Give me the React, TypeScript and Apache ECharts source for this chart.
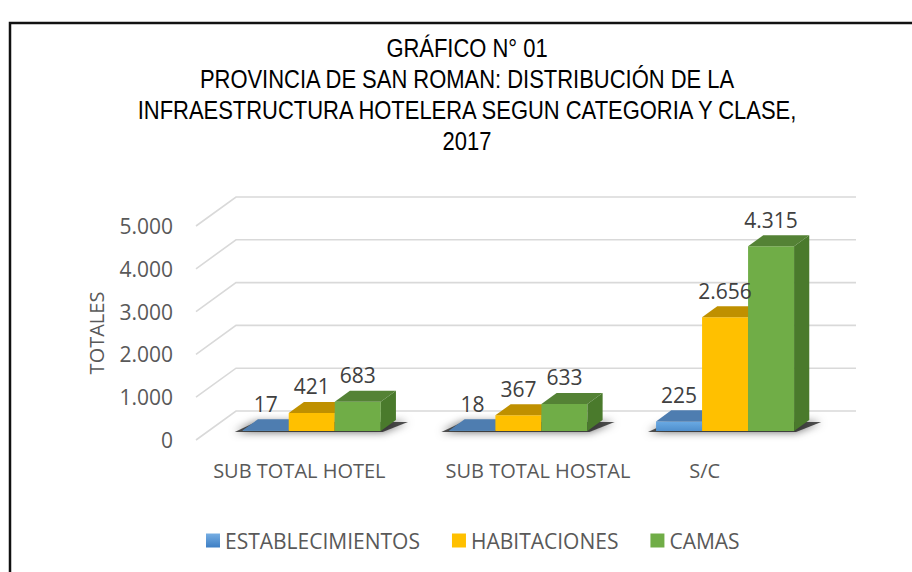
import React, { useEffect, useRef } from "react";
import * as echarts from "echarts";

const categories = ["SUB TOTAL HOTEL", "SUB TOTAL HOSTAL", "S/C"];
const seriesNames = ["ESTABLECIMIENTOS", "HABITACIONES", "CAMAS"];
const establecimientos = [17, 18, 225];
const habitaciones = [421, 367, 2656];
const camas = [683, 633, 4315];
const yTicks = [0, 1000, 2000, 3000, 4000, 5000];
const titleLines = [
  "GRÁFICO N° 01",
  "PROVINCIA DE SAN ROMAN: DISTRIBUCIÓN DE LA",
  "INFRAESTRUCTURA HOTELERA SEGUN CATEGORIA Y CLASE,",
  "2017",
];

const DX = 40;
const DY = -29;
const F0 = 0.31;
const F1 = 0.69;
const BAR_FRAC = 0.2226;

const faceColors = [
  { front: "#5B9BD5", top: "#4E7DB0", side: "#3F6A99" },
  { front: "#FFC000", top: "#BF9000", side: "#A67C00" },
  { front: "#70AD47", top: "#548235", side: "#4A7A2C" },
];

const fmt = (v: number) => String(v).replace(/\B(?=(\d{3})+(?!\d))/g, ".");

function barRenderer(si: number) {
  return (params: any, api: any) => {
    const cat = api.value(0);
    const val = api.value(1);
    const base = api.coord([cat, 0]);
    const topP = api.coord([cat, val]);
    const band = api.size([1, 0])[0];
    const bw = band * BAR_FRAC;
    const cx = base[0] + (si - 1) * bw + DX * F0;
    const x0 = cx - bw / 2;
    const x1 = cx + bw / 2;
    const yb = base[1] + DY * F0;
    const yt = topP[1] + DY * F0;
    const ddx = DX * (F1 - F0);
    const ddy = DY * (F1 - F0);
    const c = faceColors[si];
    const front =
      si === 0
        ? new echarts.graphic.LinearGradient(0, 0, 0, 1, [
            { offset: 0, color: "#6AAAE4" },
            { offset: 1, color: "#4F8FCD" },
          ])
        : c.front;
    return {
      type: "group",
      children: [
        {
          type: "polygon",
          shape: { points: [[x0, yt], [x1, yt], [x1, yb], [x0, yb]] },
          style: { fill: front },
        },
        {
          type: "polygon",
          shape: {
            points: [
              [x0, yt],
              [x1, yt],
              [x1 + ddx, yt + ddy],
              [x0 + ddx, yt + ddy],
            ],
          },
          style: { fill: c.top },
        },
        {
          type: "polygon",
          shape: {
            points: [
              [x1, yt],
              [x1 + ddx, yt + ddy],
              [x1 + ddx, yb + ddy],
              [x1, yb],
            ],
          },
          style: { fill: c.side },
        },
        {
          type: "text",
          z2: 100,
          style: {
            text: fmt(val),
            x: cx,
            y: yt + ddy - 5,
            align: "center",
            verticalAlign: "bottom",
            fill: "#404040",
            font: "21px 'Open Sans'",
          },
        },
      ],
    };
  };
}

function shadowRenderer(params: any, api: any) {
  const cat = api.value(0);
  const base = api.coord([cat, 0]);
  const band = api.size([1, 0])[0];
  const bw = band * BAR_FRAC;
  const gx0 = base[0] - 1.5 * bw + DX * F0;
  const gx1 = base[0] + 1.5 * bw + DX * F0;
  const yb = base[1] + DY * F0;
  const ddx = DX * (F1 - F0);
  const ddy = DY * (F1 - F0);
  return {
    type: "polygon",
    shape: {
      points: [
        [gx0 - 8, yb + 1],
        [gx1 + 2, yb + 1],
        [gx1 + ddx + 12, yb + ddy + 2],
        [gx0 + ddx - 2, yb + ddy + 2],
      ],
    },
    style: {
      fill: "rgba(30,30,30,0.75)",
      shadowBlur: 8,
      shadowColor: "rgba(0,0,0,0.8)",
    },
  };
}

function gridRenderer(params: any, api: any) {
  const v = api.value(1);
  const p = api.coord([0, v]);
  const pr = api.coord([categories.length - 1, v]);
  const band = api.size([1, 0])[0];
  const xl = p[0] - band / 2;
  const xr = pr[0] + band / 2;
  return {
    type: "polyline",
    shape: {
      points: [
        [xl, p[1]],
        [xl + DX, p[1] + DY],
        [xr + DX, p[1] + DY],
      ],
    },
    style: { stroke: "#D9D9D9", lineWidth: 1.6, fill: "none" },
  };
}

export default function App() {
  const ref = useRef<HTMLDivElement>(null);
  useEffect(() => {
    if (!ref.current) return;
    const chart = echarts.init(ref.current, undefined, { renderer: "svg" });
    const seriesData = [establecimientos, habitaciones, camas];
    const labelRich: any = {};
    const shifts = [
      [0, 0, 0, 0],
      [0, 0, 0, 64],
      [0, 16, 0, 0],
    ];
    categories.forEach((_, i) => {
      labelRich["c" + i] = {
        fontSize: 20,
        fontFamily: "Open Sans",
        color: "#595959",
        padding: shifts[i],
      };
    });
    chart.setOption({
      animation: false,
      backgroundColor: "#ffffff",
      graphic: [
        {
          type: "rect",
          shape: { x: 10, y: 23, width: 1200, height: 1200 },
          style: { fill: "none", stroke: "#111", lineWidth: 2.5 },
          silent: true,
        },
        {
          type: "text",
          x: 467,
          y: 32,
          scaleX: 0.845,
          style: {
            text: titleLines.join("\n"),
            x: 0,
            y: 0,
            align: "center",
            verticalAlign: "top",
            fill: "#000",
            font: "26px 'Liberation Sans'",
            lineHeight: 31,
          },
        },
      ],
      legend: {
        data: seriesNames.map((n, i) => ({
          name: n,
          itemStyle: {
            color:
              i === 0
                ? new echarts.graphic.LinearGradient(0, 0, 0, 1, [
                    { offset: 0, color: "#76AEE3" },
                    { offset: 1, color: "#3D7EC4" },
                  ])
                : faceColors[i].front,
          },
        })),
        left: 206,
        top: 530,
        padding: 0,
        icon: "rect",
        itemWidth: 14,
        itemHeight: 14,
        itemGap: 32,
        textStyle: { fontSize: 21, fontFamily: "Open Sans", color: "#595959" },
      },
      grid: { left: 196, right: 96, top: 226, bottom: 132 },
      xAxis: {
        type: "category",
        data: categories,
        axisLine: { show: false },
        axisTick: { show: false },
        splitLine: { show: false },
        axisLabel: {
          interval: 0,
          margin: 20,
          fontSize: 20,
          fontFamily: "Open Sans",
          color: "#595959",
          formatter: (v: string, i: number) => `{c${i}|${v}}`,
          rich: labelRich,
        },
      },
      yAxis: {
        type: "value",
        min: 0,
        max: 5000,
        interval: 1000,
        axisLine: { show: false },
        axisTick: { show: false },
        splitLine: { show: false },
        axisLabel: {
          margin: 23,
          fontSize: 21,
          fontFamily: "Open Sans",
          color: "#595959",
          formatter: (v: number) => fmt(v),
        },
        name: "TOTALES",
        nameLocation: "middle",
        nameGap: 90,
        nameRotate: 90,
        nameTextStyle: { fontSize: 20, fontFamily: "Open Sans", color: "#595959" },
      },
      series: [
        {
          type: "custom",
          name: "grid",
          silent: true,
          renderItem: gridRenderer,
          data: yTicks.map((v) => [0, v]),
          z: 1,
        },
        {
          type: "custom",
          name: "shadow",
          silent: true,
          renderItem: shadowRenderer,
          data: categories.map((_, i) => [i, 0]),
          z: 2,
        },
        ...seriesNames.map((n, si) => ({
          type: "custom",
          name: n,
          renderItem: barRenderer(si),
          itemStyle: { color: faceColors[si].front },
          data: seriesData[si].map((v, i) => [i, v]),
          z: 3,
        })),
      ],
    });
    return () => chart.dispose();
  }, []);
  return (
    <div
      ref={ref}
      style={{ position: "fixed", left: 0, top: 0, width: 912, height: 572 }}
    />
  );
}
